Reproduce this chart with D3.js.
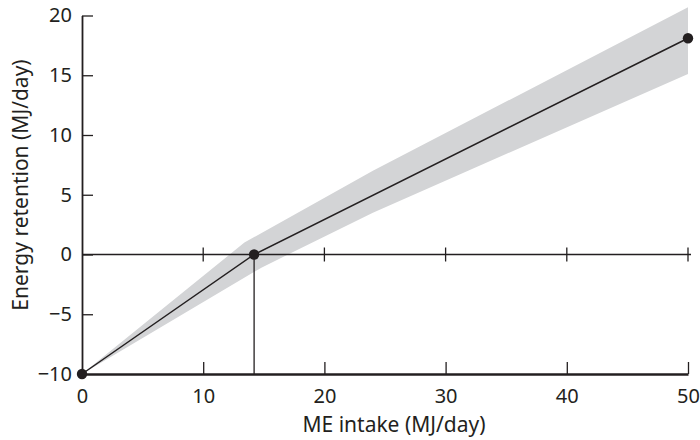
<!DOCTYPE html>
<html>
<head>
<meta charset="utf-8">
<script src="https://cdn.jsdelivr.net/npm/d3@7"></script>
<style>
  body { margin: 0; background: #fff; }
  svg text { font-family: "Noto Sans", sans-serif; fill: #231f20; }
</style>
</head>
<body>
<svg id="chart"></svg>
<script>
// fitted broken-stick line: (ME intake, energy retention)
const intake = [0, 14.2, 50];
const retention = [-10, 0, 18.1];

// shaded confidence band edges
const upperX = [0, 13.4, 24, 50];
const upperY = [-10, 1.0, 7.0, 20.7];
const lowerX = [0, 14.8, 24, 50];
const lowerY = [-10, -1.1, 3.5, 15.1];

const xTicks = [0, 10, 20, 30, 40, 50];
const yTicks = [-10, -5, 0, 5, 10, 15, 20];

const width = 700, height = 440;
const margin = { top: 15.5, right: 12, bottom: 66, left: 82 };
const ink = "#231f20";
const tickFont = 20, titleFont = 21;

const svg = d3.select("#chart")
    .attr("width", width)
    .attr("height", height);

const x = d3.scaleLinear()
    .domain([0, 50])
    .range([margin.left, width - margin.right]);

const y = d3.scaleLinear()
    .domain([-10, 20])
    .range([height - margin.bottom, margin.top]);

// band polygon: upper edge left->right, then lower edge right->left
const bandPts = upperX.map((v, i) => [x(v), y(upperY[i])])
    .concat(lowerX.map((v, i) => [x(v), y(lowerY[i])]).reverse());

svg.append("path")
    .attr("d", d3.line()(bandPts) + "Z")
    .attr("fill", "#d3d4d6")
    .attr("stroke", "none");

// zero reference line with ticks crossing both sides
const zero = svg.append("g");
zero.append("line")
    .attr("x1", x(0)).attr("x2", x(50) + 3)
    .attr("y1", y(0)).attr("y2", y(0))
    .attr("stroke", ink).attr("stroke-width", 1.3);
zero.selectAll("line.zt")
    .data(xTicks.slice(1))
    .join("line")
    .attr("class", "zt")
    .attr("x1", d => x(d)).attr("x2", d => x(d))
    .attr("y1", y(0) - 7).attr("y2", y(0) + 7)
    .attr("stroke", ink).attr("stroke-width", 1.3);

// drop line from the break point down to the x axis
svg.append("line")
    .attr("x1", x(intake[1])).attr("x2", x(intake[1]))
    .attr("y1", y(retention[1])).attr("y2", y(-10))
    .attr("stroke", ink).attr("stroke-width", 1.3);

// x axis, ticks pointing up
const xAxis = svg.append("g")
    .attr("transform", `translate(0, ${y(-10)})`)
    .call(d3.axisBottom(x).tickValues(xTicks).tickSize(-12).tickSizeOuter(0).tickPadding(15))
xAxis.select(".domain").attr("stroke", ink).attr("stroke-width", 2.4);
xAxis.selectAll(".tick line").attr("stroke", ink).attr("stroke-width", 1.3);
xAxis.selectAll(".tick")
    .filter(d => d === 0)
    .select("line").remove();
xAxis.selectAll("text")
    .attr("font-size", tickFont)
    .attr("font-family", "Noto Sans")
    .attr("fill", ink);

// y axis, ticks pointing right
const yAxis = svg.append("g")
    .attr("transform", `translate(${x(0)}, 0)`)
    .call(d3.axisLeft(y).tickValues(yTicks).tickSize(-11).tickSizeOuter(0).tickPadding(10)
        .tickFormat(d => d < 0 ? "\u2212" + Math.abs(d) : d))
yAxis.select(".domain").attr("stroke", ink).attr("stroke-width", 1.8);
yAxis.selectAll(".tick line").attr("stroke", ink).attr("stroke-width", 1.3);
yAxis.selectAll(".tick")
    .filter(d => d === -10)
    .select("line").remove();
yAxis.selectAll("text")
    .attr("font-size", tickFont)
    .attr("font-family", "Noto Sans")
    .attr("fill", ink);

// fitted line
svg.append("path")
    .attr("d", d3.line()(intake.map((v, i) => [x(v), y(retention[i])])))
    .attr("fill", "none")
    .attr("stroke", ink)
    .attr("stroke-width", 1.5);

svg.selectAll("circle")
    .data(intake)
    .join("circle")
    .attr("cx", d => x(d))
    .attr("cy", (d, i) => y(retention[i]))
    .attr("r", 5.2)
    .attr("fill", ink);

// axis titles
svg.append("text")
    .attr("x", 394)
    .attr("y", 432)
    .attr("text-anchor", "middle")
    .attr("font-size", titleFont)
    .text("ME intake (MJ/day)");

svg.append("text")
    .attr("transform", `translate(28, 185) rotate(-90)`)
    .attr("text-anchor", "middle")
    .attr("font-size", titleFont)
    .text("Energy retention (MJ/day)");
</script>
</body>
</html>
